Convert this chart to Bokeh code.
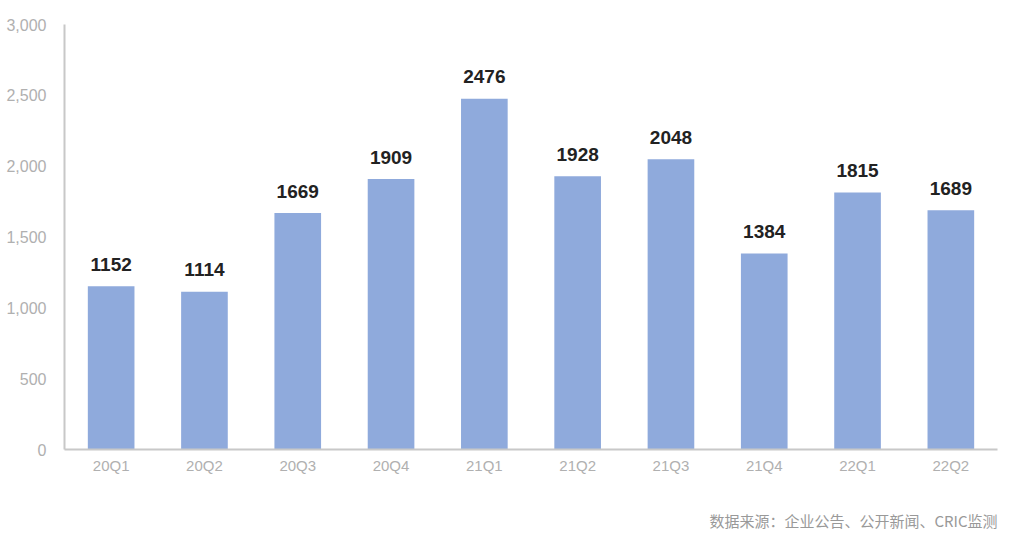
from bokeh.plotting import figure
from bokeh.models import ColumnDataSource, NumeralTickFormatter, Range1d, FixedTicker, Title
from bokeh.core.properties import value
from bokeh.embed import file_html
from bokeh.resources import INLINE

quarters = ["20Q1", "20Q2", "20Q3", "20Q4", "21Q1", "21Q2", "21Q3", "21Q4", "22Q1", "22Q2"]
values = [1152, 1114, 1669, 1909, 2476, 1928, 2048, 1384, 1815, 1689]
y_ticks = [0, 500, 1000, 1500, 2000, 2500, 3000]
source_text = "数据来源：企业公告、公开新闻、CRIC监测"

src = ColumnDataSource(dict(q=quarters, v=values, t=[str(v) for v in values]))

p = figure(x_range=quarters, y_range=Range1d(0, 3000), width=1024, height=534,
           output_backend="svg", toolbar_location=None,
           min_border_left=64, min_border_top=24, min_border_right=27, min_border_bottom=85)
p.outline_line_color = None
p.xgrid.grid_line_color = None
p.ygrid.grid_line_color = None

p.vbar(x="q", top="v", width=0.5, source=src, fill_color="#8FAADC", line_color=None)
p.text(x="q", y="v", text="t", source=src, text_align="center", text_baseline="alphabetic",
       y_offset=-22, text_font_size="19px", text_font_style="bold", text_color="#222222",
       text_font=value("Liberation Sans"))

for ax in (p.xaxis, p.yaxis):
    ax.axis_line_color = "#c8c8c8"
    ax.axis_line_width = 2
    ax.major_tick_line_color = None
    ax.minor_tick_line_color = None
    ax.major_label_text_color = "#b0b0b0"
    ax.major_label_text_font = "Liberation Sans"

p.xaxis.major_label_text_font_size = "15px"
p.yaxis.major_label_text_font_size = "16px"
p.yaxis.ticker = FixedTicker(ticks=y_ticks)
p.yaxis.formatter = NumeralTickFormatter(format="0,0")
p.yaxis.major_label_standoff = 12
p.xaxis.major_label_standoff = 1
p.xaxis.axis_label = " "
p.xaxis.axis_label_standoff = 9
p.xaxis.axis_label_text_font_size = "14px"

src_title = Title(text=source_text, align="right", text_font_size="15px",
                  text_font="Noto Sans CJK SC", text_font_style="normal",
                  text_color="#999999", standoff=7)
p.add_layout(src_title, "below")

open("out.html", "w").write(file_html(p, INLINE))
